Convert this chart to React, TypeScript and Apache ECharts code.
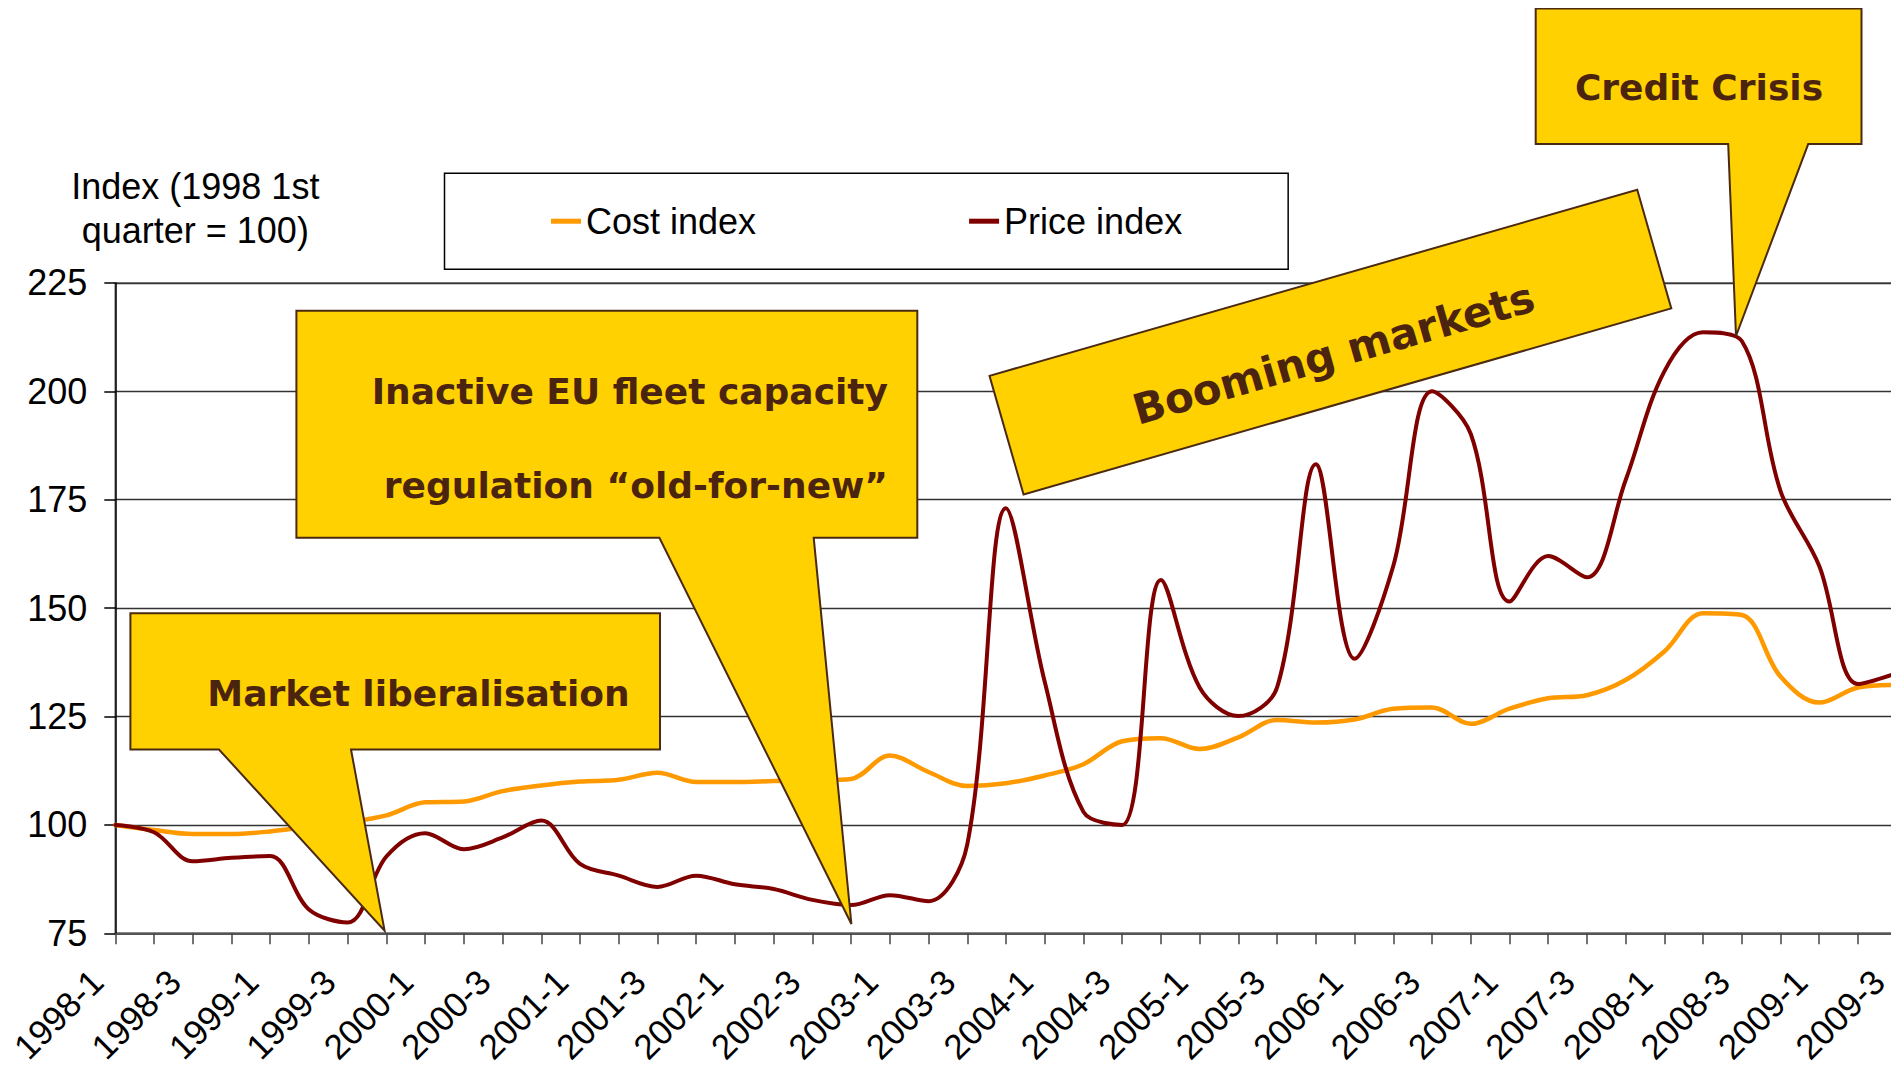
import React, { useEffect, useRef } from "react";
import * as echarts from "echarts";

const quarters = [
  "1998-1", "1998-2", "1998-3", "1998-4",
  "1999-1", "1999-2", "1999-3", "1999-4",
  "2000-1", "2000-2", "2000-3", "2000-4",
  "2001-1", "2001-2", "2001-3", "2001-4",
  "2002-1", "2002-2", "2002-3", "2002-4",
  "2003-1", "2003-2", "2003-3", "2003-4",
  "2004-1", "2004-2", "2004-3", "2004-4",
  "2005-1", "2005-2", "2005-3", "2005-4",
  "2006-1", "2006-2", "2006-3", "2006-4",
  "2007-1", "2007-2", "2007-3", "2007-4",
  "2008-1", "2008-2", "2008-3", "2008-4",
  "2009-1", "2009-2", "2009-3",
];

const costIndex = [
  100, 98.8, 97.9, 97.9, 98.5, 99.6, 100.6, 102.2,
  105.2, 105.4, 107.8, 109.1, 110.0, 110.4, 112.0, 109.9,
  109.9, 110.1, 110.3, 110.6, 116.0, 112.2, 109.0, 109.6,
  111.4, 114.0, 119.3, 120.0, 117.5, 120.2, 124.2, 123.6,
  124.3, 126.8, 127.1, 123.3, 126.8, 129.2, 129.9, 133.4,
  140.0, 148.8, 148.4, 134.2, 128.2, 131.7, 132.3,
];

const priceIndex = [
  100, 98.3, 91.6, 92.4, 92.8, 80.5, 77.5, 92.7,
  98.1, 94.4, 97.1, 101.0, 91.0, 88.3, 85.7, 88.3,
  86.3, 85.2, 82.7, 81.5, 83.8, 82.4, 95.5, 173.0,
  133.0, 103.0, 100.0, 156.5, 131.7, 125.1, 131.7, 183.2,
  138.3, 159.7, 200.0, 190.2, 151.5, 162.0, 157.1, 179.5,
  204.6, 213.6, 211.6, 177.0, 159.7, 132.5, 135.0,
];

const seriesNames = ["Cost index", "Price index"];
const yTicks = { min: 75, max: 225, interval: 25 };
const axisTitle = "Index (1998 1st\nquarter = 100)";
const calloutTexts = {
  market: "Market liberalisation",
  inactive1: "Inactive EU fleet capacity",
  inactive2: "regulation \u201cold-for-new\u201d",
  booming: "Booming markets",
  credit: "Credit Crisis",
};

const SANS = '"Liberation Sans", Arial, sans-serif';
const CALLOUT_FONT = '"DejaVu Sans", Verdana, sans-serif';
const FILL = "#FFD100";
const EDGE = "#4B2A12";
const INK = "#4B2410";

export default function App() {
  const ref = useRef<HTMLDivElement>(null);

  useEffect(() => {
    if (!ref.current) return;
    const chart = echarts.init(ref.current, undefined, { renderer: "svg" });

    const calloutStyle = { fill: FILL, stroke: EDGE, lineWidth: 2 };
    const textStyle = (text: string, size: number, align: string) => ({
      text,
      fill: INK,
      align,
      verticalAlign: "middle",
      fontFamily: CALLOUT_FONT,
      fontWeight: "bold",
      fontSize: size,
    });

    chart.setOption({
      animation: false,
      backgroundColor: "#ffffff",
      grid: {
        left: 115.3,
        right: 2.3,
        top: 282.9,
        bottom: 141.7,
        containLabel: false,
        outerBoundsMode: "none",
        show: true,
        borderColor: "#8a8a8a",
        borderWidth: 2,
        backgroundColor: "transparent",
      },
      legend: {
        left: 444.5,
        top: 173.2,
        orient: "horizontal",
        itemWidth: 30,
        itemHeight: 5,
        itemGap: 213,
        padding: [28, 106, 28, 106.5],
        borderColor: "#000",
        borderWidth: 1.5,
        textStyle: { fontSize: 36, fontFamily: SANS, color: "#000", lineHeight: 40 },
        data: seriesNames.map((n) => ({ name: n, icon: "rect" })),
      },
      xAxis: {
        type: "category",
        data: quarters,
        boundaryGap: false,
        axisLine: { show: true, lineStyle: { color: "#555", width: 2 } },
        axisTick: { show: true, interval: 0, length: 11, lineStyle: { color: "#444", width: 1.5 } },
        axisLabel: {
          interval: 1,
          rotate: 45,
          margin: 24,
          padding: [0, 26, 0, 0],
          lineHeight: 30,
          fontSize: 35,
          fontFamily: SANS,
          color: "#000",
          showMinLabel: true,
          showMaxLabel: true,
        },
        splitLine: { show: false },
      },
      yAxis: {
        type: "value",
        min: yTicks.min,
        max: yTicks.max,
        interval: yTicks.interval,
        name: axisTitle,
        nameLocation: "end",
        nameGap: 30,
        nameTextStyle: {
          fontSize: 36,
          fontFamily: SANS,
          color: "#000",
          align: "center",
          lineHeight: 44,
          padding: [0, 0, 0, 160],
        },
        axisLine: { show: true, lineStyle: { color: "#000", width: 1.5 } },
        axisTick: { show: true, length: 11, lineStyle: { color: "#000", width: 1.5 } },
        axisLabel: { fontSize: 36, fontFamily: SANS, color: "#000", margin: 28 },
        splitLine: { show: true, lineStyle: { color: "#333", width: 1.3 } },
      },
      series: [
        {
          name: seriesNames[0],
          type: "line",
          data: costIndex,
          smooth: 0.35,
          symbol: "none",
          color: "#FF9900",
          lineStyle: { width: 4.5, color: "#FF9900", cap: "round", join: "round" },
          z: 2,
        },
        {
          name: seriesNames[1],
          type: "line",
          data: priceIndex,
          smooth: 0.35,
          symbol: "none",
          color: "#800000",
          lineStyle: { width: 4, color: "#800000", cap: "round", join: "round" },
          z: 3,
        },
      ],
      graphic: [
        // Market liberalisation
        {
          type: "polygon", z: 100,
          shape: {
            points: [
              [130.4, 613.3], [660, 613.3], [660, 749.5], [351, 749.5],
              [384.6, 930.7], [219, 749.5], [130.4, 749.5],
            ],
          },
          style: calloutStyle,
        },
        { type: "text", z: 101, x: 629.6, y: 693.5, style: textStyle(calloutTexts.market, 36, "right") },
        // Inactive EU fleet capacity
        {
          type: "polygon", z: 100,
          shape: {
            points: [
              [296.4, 310.7], [917.3, 310.7], [917.3, 537.7], [813.7, 537.7],
              [851.4, 924], [659.4, 537.7], [296.4, 537.7],
            ],
          },
          style: calloutStyle,
        },
        { type: "text", z: 101, x: 888, y: 391, style: textStyle(calloutTexts.inactive1, 36, "right") },
        { type: "text", z: 101, x: 888, y: 485.3, style: textStyle(calloutTexts.inactive2, 36, "right") },
        // Booming markets (rotated)
        {
          type: "group", z: 100, x: 1330.4, y: 342.1, rotation: (16 * Math.PI) / 180,
          children: [
            {
              type: "rect", z: 100,
              shape: { x: -337, y: -61.7, width: 674, height: 123.4 },
              style: calloutStyle,
            },
            { type: "text", z: 101, x: 0, y: 12, style: textStyle(calloutTexts.booming, 42, "center") },
          ],
        },
        // Credit Crisis
        {
          type: "polygon", z: 100,
          shape: {
            points: [
              [1535.7, 8.5], [1861.5, 8.5], [1861.5, 144.1], [1808.2, 144.1],
              [1736, 336], [1728.2, 144.1], [1535.7, 144.1],
            ],
          },
          style: calloutStyle,
        },
        { type: "text", z: 101, x: 1699, y: 87.5, style: textStyle(calloutTexts.credit, 36, "center") },
      ],
    });

    return () => chart.dispose();
  }, []);

  return <div ref={ref} style={{ width: 1899, height: 1075, margin: -8 }} />;
}
